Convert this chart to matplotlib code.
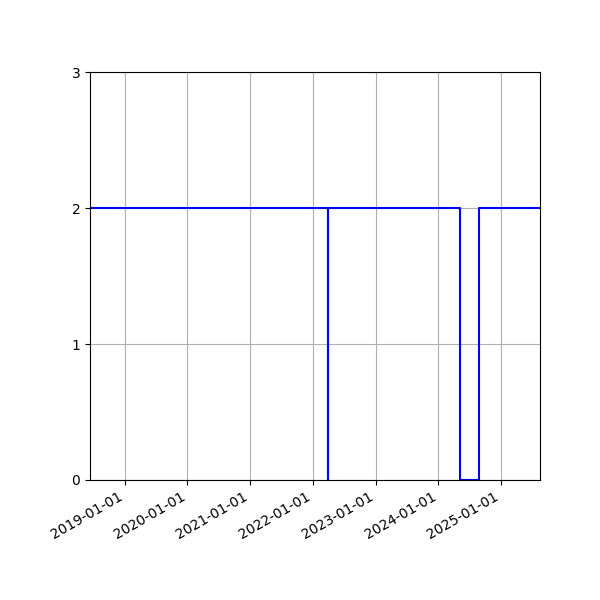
import pandas as pd
import matplotlib
matplotlib.use("Agg")
import matplotlib.pyplot as plt
import matplotlib.dates as mdates

# status series (step changes)
dates = ['2018-06-13', '2022-03-28', '2022-03-31', '2024-05-09', '2024-08-27', '2025-08-15']
values = [2, 0, 2, 0, 2, 2]

dates = pd.to_datetime(dates)

fig, ax = plt.subplots(figsize=(6, 6), dpi=100)

ax.step(dates, values, where='post', color='blue', linewidth=1.5)
ax.set_xlim(dates[0], dates[-1])
ax.set_ylim(0, 3)
ax.set_yticks([0, 1, 2, 3])
ax.xaxis.set_major_locator(mdates.YearLocator())
ax.xaxis.set_major_formatter(mdates.DateFormatter('%Y-%m-%d'))
ax.grid(True)
ax.set_axisbelow(True)

fig.autofmt_xdate()
fig.subplots_adjust(left=0.15, right=0.9, top=0.88, bottom=0.2)

plt.savefig("out.png")
